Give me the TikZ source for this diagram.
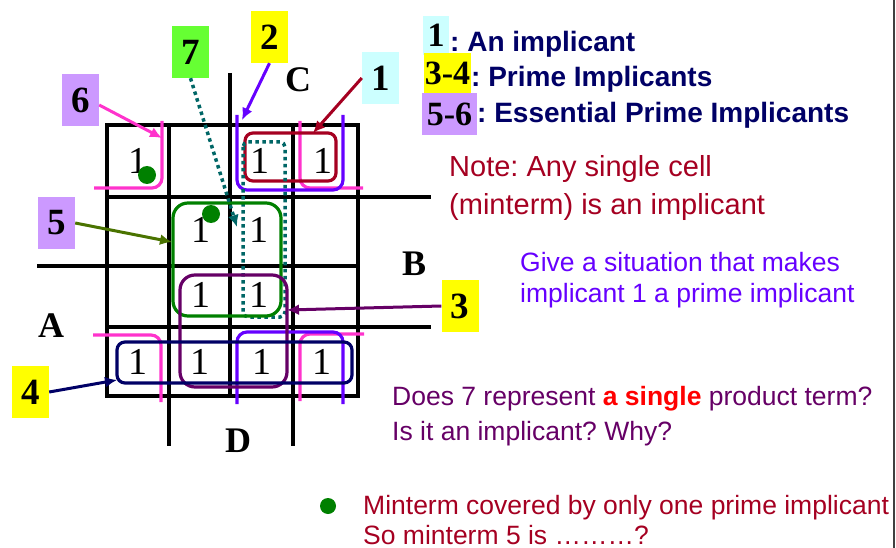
\documentclass[tikz,border=0pt]{standalone}
\usepackage{fontspec}
\setmainfont{Liberation Serif}
\setsansfont{Liberation Sans}
\usetikzlibrary{arrows.meta}
\frenchspacing
\definecolor{pinkc}{HTML}{FF33CC}
\definecolor{violetc}{HTML}{6600FF}
\definecolor{darkredc}{HTML}{A50021}
\definecolor{tealc}{HTML}{006666}
\definecolor{greenc}{HTML}{008000}
\definecolor{olivec}{HTML}{4A7300}
\definecolor{purplec}{HTML}{660066}
\definecolor{navyc}{HTML}{000066}
\definecolor{cyanbox}{HTML}{CCFFFF}
\definecolor{yellowbox}{HTML}{FFFF00}
\definecolor{greenbox}{HTML}{66FF33}
\definecolor{lavbox}{HTML}{CC99FF}
\begin{document}
\begin{tikzpicture}[x=1pt,y=-1pt,
  gridln/.style={line width=3.5pt, black},
  loopln/.style={line width=3.2pt, rounded corners=10pt},
  tag/.style={inner sep=0pt, minimum width=37pt, minimum height=52pt, font=\fontsize{37}{40}\selectfont\bfseries},
  axis/.style={inner sep=0pt, font=\fontsize{36}{40}\selectfont\bfseries},
  one/.style={inner sep=0pt, font=\fontsize{38}{40}\selectfont},
  arr/.style={line width=3pt, -{Latex[length=12pt,width=11pt]}},
  txt/.style={anchor=base west, inner sep=0pt, font=\sffamily\fontsize{26.5}{30}\selectfont},
  bigtxt/.style={anchor=base west, inner sep=0pt, font=\sffamily\fontsize{29}{32}\selectfont},
  head/.style={anchor=base west, inner sep=0pt, text=navyc, font=\sffamily\bfseries\fontsize{28}{30}\selectfont},
  leg/.style={inner sep=0pt, font=\fontsize{34}{38}\selectfont\bfseries}]
\useasboundingbox (0,0) rectangle (896,548);
% right border
\draw[line width=1.5pt, black!75] (894,0) -- (894,548);

% K-map grid
\draw[gridln] (107,125) rectangle (358,396);
\draw[gridln] (169,125) -- (169,446);
\draw[gridln] (230,73) -- (230,396);
\draw[gridln] (293,125) -- (293,446);
\draw[gridln] (107,197) -- (431,197);
\draw[gridln] (37,266) -- (358,266);
\draw[gridln] (107,327) -- (431,327);

% axis labels
\node[axis] (C) at (298,80) {C};
\node[axis] (B) at (414,264) {B};
\node[axis] (A) at (51,326) {A};
\node[axis] (D) at (238,441) {D};

% loop 6 (four corners, pink)
\draw[loopln, pinkc] (162,121) -- (162,188) -- (94,188);
\draw[loopln, pinkc] (300,121) -- (300,188) -- (363,188);
\draw[loopln, pinkc] (93,335) -- (161,335) -- (161,402);
\draw[loopln, pinkc] (364,334) -- (300,334) -- (300,401);
% loop 2 (violet)
\draw[loopln, violetc] (237,115) -- (237,190) -- (343,190) -- (343,115);
\draw[loopln, violetc] (237,404) -- (237,332) -- (343,332) -- (343,404);
% loop 1 (dark red)
\draw[line width=3.2pt, rounded corners=8pt, darkredc] (245,133) rectangle (336,181);
% loop 7 (dotted teal)
\draw[line width=3.5pt, tealc, dash pattern=on 3.5pt off 3.5pt, rounded corners=5pt] (243,142) rectangle (285,317);
% loop 5 (green)
\draw[line width=3.2pt, rounded corners=15pt, greenc] (173,203) rectangle (281,316);
% loop 3 (purple)
\draw[line width=3.2pt, rounded corners=15pt, purplec] (180,275) rectangle (287,387);
% loop 4 (navy)
\draw[line width=3.2pt, rounded corners=8pt, navyc] (117,342) rectangle (352,383);

% minterm ones
\node[one] (m0) at (138,161) {1};
\node[one] (m2) at (260,161) {1};
\node[one] (m3) at (323,161) {1};
\node[one] (m5) at (201,230) {1};
\node[one] (m6) at (259,230) {1};
\node[one] (m9) at (201,295) {1};
\node[one] (m10) at (259,295) {1};
\node[one] (m12) at (138,362) {1};
\node[one] (m13) at (199.5,362) {1};
\node[one] (m14) at (261.5,362) {1};
\node[one] (m15) at (322,362) {1};

% green dots
\fill[greenc] (147,175) circle (9pt);
\fill[greenc] (211,214) circle (9pt);

% tags
\node[tag, fill=greenbox] (L7) at (190.5,52) {7};
\node[tag, fill=yellowbox] (L2) at (269.5,37) {2};
\node[tag, fill=cyanbox] (L1) at (380.5,78) {1};
\node[tag, fill=lavbox] (L6) at (80.5,100) {6};
\node[tag, fill=lavbox] (L5) at (56.5,223) {5};
\node[tag, fill=yellowbox] (L4) at (30.5,392) {4};
\node[tag, fill=yellowbox] (L3) at (460,306) {3};

% arrow targets
\coordinate (t6) at (162,138);
\coordinate (t2) at (242,120);
\coordinate (t1) at (313,133);
\coordinate (t7) at (237,227);
\coordinate (t5) at (172,242);
\coordinate (t3) at (287,310);
\coordinate (t4) at (117,380);

\draw[arr, pinkc] (L6.-15) -- (t6);
\draw[arr, violetc] (L2.south) -- (t2);
\draw[arr, darkredc] (L1.west) -- (t1);
\draw[line width=3.5pt, tealc, dash pattern=on 3.5pt off 3.5pt, -{Latex[length=12pt,width=11pt]}] (L7.south) -- (t7);
\draw[arr, olivec] (L5.east) -- (t5);
\draw[arr, purplec] (L3.west) -- (t3);
\draw[arr, navyc] (L4.east) -- (t4);

% legend
\node[leg, fill=cyanbox, minimum width=26pt, minimum height=39pt] (k1) at (436,35.5) {1};
\node[leg, fill=yellowbox, minimum width=47pt, minimum height=40pt] (k34) at (447.5,73) {3-4};
\node[leg, fill=lavbox, minimum width=55pt, minimum height=42pt] (k56) at (449.5,114) {5-6};
\node[head] (h1) at (450,52) {: An implicant};
\node[head] (h2) at (471,87) {: Prime Implicants};
\node[head] (h3) at (477,123) {: Essential Prime Implicants};

% notes
\node[bigtxt, text=darkredc] (n1) at (449,177) {Note: Any single cell};
\node[bigtxt, text=darkredc] (n2) at (449,214) {(minterm) is an implicant};
\node[txt, text=violetc] (g1) at (520,271) {Give a situation that makes};
\node[txt, text=violetc] (g2) at (520,302) {implicant 1 a prime implicant};
\node[txt, text=purplec] (q1) at (392,405) {Does 7 represent \textcolor{red}{\bfseries a single} product term?};
\node[txt, text=purplec] (q2) at (392,440) {Is it an implicant? Why?};
\fill[greenc] (328,506) circle (8pt);
\node[txt, text=darkredc] (e1) at (363,514) {Minterm covered by only one prime implicant};
\node[txt, text=darkredc] (e2) at (363,544) {So minterm 5 is ………?};
\end{tikzpicture}
\end{document}
